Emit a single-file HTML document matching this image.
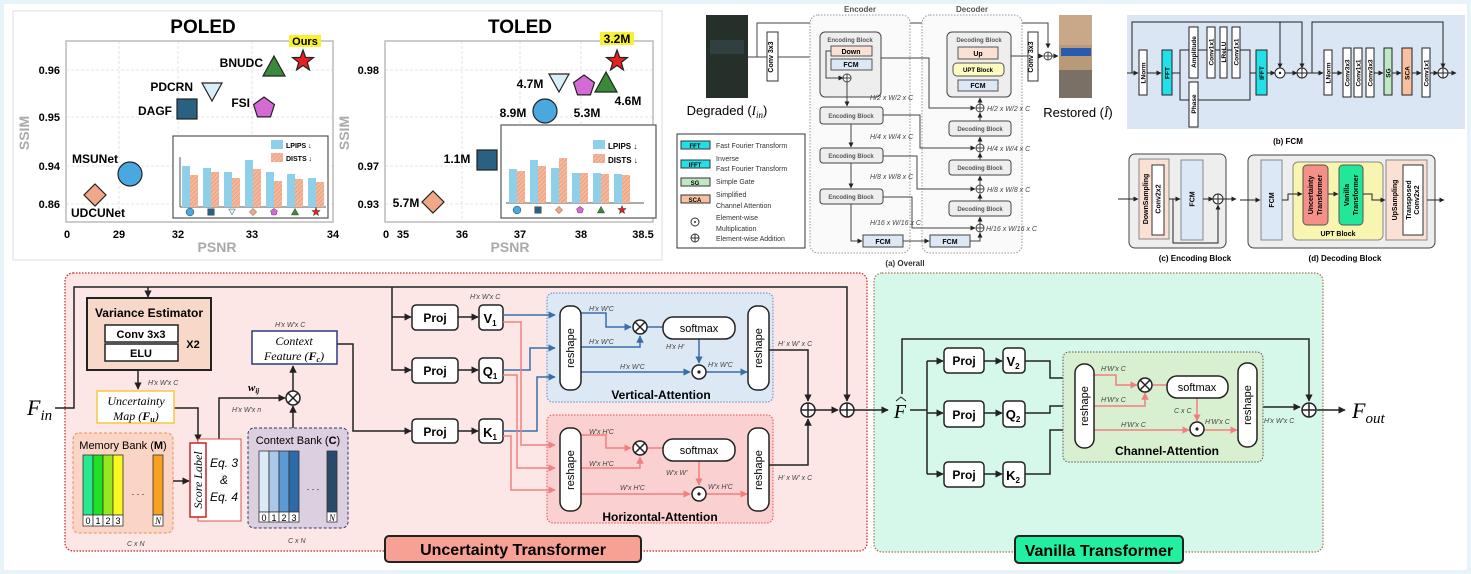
<!DOCTYPE html>
<html><head><meta charset="utf-8"><style>
html,body{margin:0;padding:0;background:#e6f3f9;}
svg{display:block;}
text{font-family:"Liberation Sans",sans-serif;}
.b{font-weight:bold;}
.m{font-family:"Liberation Serif",serif;font-style:italic;}
.s{font-size:7px;font-style:italic;fill:#444;}
</style></head><body>
<svg width="1471" height="574" viewBox="0 0 1471 574" xmlns="http://www.w3.org/2000/svg">
<defs>
<marker id="ak" viewBox="0 0 10 10" refX="9" refY="5" markerWidth="5" markerHeight="5" orient="auto"><path d="M0,0L10,5L0,10z" fill="#222"/></marker>
<marker id="ab" viewBox="0 0 10 10" refX="9" refY="5" markerWidth="5" markerHeight="5" orient="auto"><path d="M0,0L10,5L0,10z" fill="#3a6ea8"/></marker>
<marker id="ar" viewBox="0 0 10 10" refX="9" refY="5" markerWidth="5" markerHeight="5" orient="auto"><path d="M0,0L10,5L0,10z" fill="#f08080"/></marker>
<pattern id="hat" width="3" height="3" patternUnits="userSpaceOnUse" patternTransform="rotate(45)"><rect width="3" height="3" fill="#f4b89c"/><line x1="0" y1="0" x2="0" y2="3" stroke="#e88a64" stroke-width="1"/></pattern>
<polygon id="star" points="0,-11 2.65,-3.64 10.46,-3.4 4.28,1.39 6.47,8.9 0,4.5 -6.47,8.9 -4.28,1.39 -10.46,-3.4 -2.65,-3.64" fill="#e82020" stroke="#222" stroke-width="1.2"/>
<polygon id="pent" points="0,-11 10.46,-3.4 6.47,8.9 -6.47,8.9 -10.46,-3.4" fill="#d46ad4" stroke="#222" stroke-width="1.2"/>
<polygon id="tri" points="0,-11 11,9 -11,9" fill="#3a8a3a" stroke="#222" stroke-width="1.2"/>
<polygon id="dtri" points="-10,-9 10,-9 0,9" fill="#d8eef8" stroke="#222" stroke-width="1.2"/>
<polygon id="dia" points="0,-11 11,0 0,11 -11,0" fill="#f0a888" stroke="#222" stroke-width="1.2"/>
<rect id="sq" x="-10" y="-10" width="20" height="20" fill="#2a6080" stroke="#222" stroke-width="1.2"/>
<circle id="circ" r="12" fill="#4aa8e0" stroke="#222" stroke-width="1.2"/>
</defs>
<rect x="4" y="4" width="1463" height="566" fill="#fff"/>

<!-- ============ PLOTS PANEL ============ -->
<rect x="13" y="11" width="649" height="249" fill="#fff" stroke="#ddd"/>
<text x="203" y="33" font-size="19" class="b" text-anchor="middle">POLED</text>
<g stroke="#ddd" stroke-dasharray="3,2" stroke-width="0.8">
<line x1="119" y1="41" x2="119" y2="222"/><line x1="178" y1="41" x2="178" y2="222"/><line x1="252" y1="41" x2="252" y2="222"/>
<line x1="66" y1="70" x2="333" y2="70"/><line x1="66" y1="117" x2="333" y2="117"/><line x1="66" y1="166" x2="333" y2="166"/><line x1="66" y1="204" x2="333" y2="204"/>
</g>
<rect x="66" y="41" width="267" height="181" fill="none" stroke="#bbb" stroke-width="1.5"/>
<g font-size="11" class="b" text-anchor="end"><text x="60" y="74">0.96</text><text x="60" y="121">0.95</text><text x="60" y="170">0.94</text><text x="60" y="208">0.86</text></g>
<g font-size="11" class="b" text-anchor="middle"><text x="67" y="238">0</text><text x="119" y="238">29</text><text x="178" y="238">32</text><text x="252" y="238">33</text><text x="333" y="238">34</text></g>
<text x="217" y="252" font-size="14" class="b" fill="#aaa" text-anchor="middle">PSNR</text>
<text x="29" y="133" font-size="14" class="b" fill="#aaa" text-anchor="middle" transform="rotate(-90 29 133)">SSIM</text>
<use href="#star" x="303" y="61"/><rect x="289" y="35" width="32" height="12" fill="#f8f030"/><text x="305" y="45" font-size="11" class="b" text-anchor="middle">Ours</text>
<use href="#tri" x="274" y="67"/><text x="263" y="67" font-size="12" class="b" text-anchor="end">BNUDC</text>
<use href="#dtri" x="212" y="92"/><text x="193" y="91" font-size="12" class="b" text-anchor="end">PDCRN</text>
<use href="#sq" x="187" y="109"/><text x="172" y="115" font-size="12" class="b" text-anchor="end">DAGF</text>
<use href="#pent" x="264" y="108"/><text x="250" y="107" font-size="12" class="b" text-anchor="end">FSI</text>
<use href="#circ" x="130" y="174"/><text x="72" y="163" font-size="12" class="b">MSUNet</text>
<use href="#dia" x="95" y="195"/><text x="71" y="217" font-size="12" class="b">UDCUNet</text>
<rect x="173" y="136" width="155" height="82" fill="#fff" stroke="#555" stroke-width="1.2"/>
<line x1="180" y1="157" x2="180" y2="207" stroke="#555"/><line x1="180" y1="207" x2="326" y2="207" stroke="#555"/>
<g fill="#8ecfea"><rect x="182" y="166" width="8" height="41"/><rect x="203" y="168" width="8" height="39"/><rect x="224" y="172" width="8" height="35"/><rect x="245" y="160" width="8" height="47"/><rect x="266" y="172" width="8" height="35"/><rect x="287" y="174" width="8" height="33"/><rect x="308" y="178" width="8" height="29"/></g>
<g fill="url(#hat)"><rect x="190" y="175" width="8" height="32"/><rect x="211" y="172" width="8" height="35"/><rect x="232" y="178" width="8" height="29"/><rect x="253" y="169" width="8" height="38"/><rect x="274" y="181" width="8" height="26"/><rect x="295" y="179" width="8" height="28"/><rect x="316" y="182" width="8" height="25"/></g>
<rect x="271" y="140" width="12" height="9" fill="#8ecfea"/><text x="286" y="148" font-size="7" class="b">LPIPS ↓</text>
<rect x="271" y="153" width="12" height="9" fill="url(#hat)"/><text x="286" y="161" font-size="7" class="b">DISTS ↓</text>
<g transform="translate(0,212)"><use href="#circ" transform="translate(190,0) scale(0.33)"/><use href="#sq" transform="translate(211,0) scale(0.33)"/><use href="#dtri" transform="translate(232,0) scale(0.33)"/><use href="#dia" transform="translate(253,0) scale(0.33)"/><use href="#pent" transform="translate(274,0) scale(0.33)"/><use href="#tri" transform="translate(295,0) scale(0.33)"/><use href="#star" transform="translate(316,0) scale(0.4)"/></g>

<text x="520" y="33" font-size="19" class="b" text-anchor="middle">TOLED</text>
<g stroke="#ddd" stroke-dasharray="3,2" stroke-width="0.8">
<line x1="462" y1="41" x2="462" y2="222"/><line x1="520" y1="41" x2="520" y2="222"/><line x1="581" y1="41" x2="581" y2="222"/>
<line x1="385" y1="70" x2="653" y2="70"/><line x1="385" y1="117" x2="653" y2="117"/><line x1="385" y1="166" x2="653" y2="166"/><line x1="385" y1="204" x2="653" y2="204"/>
</g>
<rect x="385" y="41" width="268" height="181" fill="none" stroke="#bbb" stroke-width="1.5"/>
<g font-size="11" class="b" text-anchor="end"><text x="379" y="74">0.98</text><text x="379" y="170">0.97</text><text x="379" y="208">0.93</text></g>
<g font-size="11" class="b" text-anchor="middle"><text x="386" y="238">0</text><text x="403" y="238">35</text><text x="462" y="238">36</text><text x="520" y="238">37</text><text x="581" y="238">38</text><text x="643" y="238">38.5</text></g>
<text x="510" y="252" font-size="14" class="b" fill="#aaa" text-anchor="middle">PSNR</text>
<text x="349" y="133" font-size="14" class="b" fill="#aaa" text-anchor="middle" transform="rotate(-90 349 133)">SSIM</text>
<use href="#star" x="617" y="61"/><rect x="600" y="32" width="34" height="13" fill="#f8f030"/><text x="617" y="43" font-size="12" class="b" text-anchor="middle">3.2M</text>
<use href="#tri" x="606" y="83"/><text x="628" y="105" font-size="12" class="b" text-anchor="middle">4.6M</text>
<use href="#pent" x="584" y="86"/><text x="587" y="117" font-size="12" class="b" text-anchor="middle">5.3M</text>
<use href="#dtri" x="559" y="83"/><text x="530" y="88" font-size="12" class="b" text-anchor="middle">4.7M</text>
<use href="#circ" x="545" y="111"/><text x="513" y="117" font-size="12" class="b" text-anchor="middle">8.9M</text>
<use href="#sq" x="487" y="160"/><text x="457" y="163" font-size="12" class="b" text-anchor="middle">1.1M</text>
<use href="#dia" x="433" y="202"/><text x="406" y="207" font-size="12" class="b" text-anchor="middle">5.7M</text>
<rect x="501" y="125" width="155" height="93" fill="#fff" stroke="#555" stroke-width="1.2"/>
<line x1="506" y1="203" x2="644" y2="203" stroke="#555"/>
<g fill="#8ecfea"><rect x="509" y="169" width="8" height="34"/><rect x="530" y="160" width="8" height="43"/><rect x="551" y="168" width="8" height="35"/><rect x="572" y="173" width="8" height="30"/><rect x="593" y="173" width="8" height="30"/><rect x="614" y="174" width="8" height="29"/></g>
<g fill="url(#hat)"><rect x="517" y="171" width="8" height="32"/><rect x="538" y="166" width="8" height="37"/><rect x="559" y="158" width="8" height="45"/><rect x="580" y="173" width="8" height="30"/><rect x="601" y="174" width="8" height="29"/><rect x="622" y="175" width="8" height="28"/></g>
<rect x="593" y="140" width="12" height="9" fill="#8ecfea"/><text x="608" y="149" font-size="8" class="b">LPIPS ↓</text>
<rect x="593" y="154" width="12" height="9" fill="url(#hat)"/><text x="608" y="163" font-size="8" class="b">DISTS ↓</text>
<g transform="translate(0,210)"><use href="#circ" transform="translate(517,0) scale(0.33)"/><use href="#sq" transform="translate(538,0) scale(0.33)"/><use href="#dia" transform="translate(559,0) scale(0.33)"/><use href="#pent" transform="translate(580,0) scale(0.33)"/><use href="#tri" transform="translate(601,0) scale(0.33)"/><use href="#star" transform="translate(622,0) scale(0.4)"/></g>

<!-- ============ (a) OVERALL ============ -->
<rect x="706" y="15" width="42" height="83" fill="#26302a"/>
<rect x="710" y="40" width="34" height="14" fill="#34474a" opacity="0.7"/>
<text x="727" y="115" font-size="13" text-anchor="middle">Degraded (<tspan class="m">I<tspan font-size="9" dy="3">in</tspan></tspan><tspan dy="-3">)</tspan></text>
<rect x="767" y="32" width="11" height="49" fill="#fff" stroke="#333"/>
<text x="773" y="57" font-size="7" class="b" text-anchor="middle" transform="rotate(-90 773 57)">Conv 3x3</text>
<g fill="none" stroke="#444" stroke-width="1">
<polyline points="748,57 767,57"/><polyline points="778,57 819,57" marker-end="url(#ak)"/>
<polyline points="757,57 757,23 1048,23 1048,48" marker-end="url(#ak)"/>
</g>
<rect x="810" y="15" width="100" height="238" rx="8" fill="#fafafa" stroke="#999" stroke-dasharray="1.5,1.5"/>
<rect x="922" y="15" width="100" height="238" rx="8" fill="#fafafa" stroke="#999" stroke-dasharray="1.5,1.5"/>
<text x="860" y="12" font-size="8" class="b" fill="#555" text-anchor="middle">Encoder</text>
<text x="972" y="12" font-size="8" class="b" fill="#555" text-anchor="middle">Decoder</text>
<rect x="820" y="32" width="61" height="65" rx="5" fill="#eee" stroke="#444"/>
<text x="850" y="42" font-size="6" class="b" fill="#555" text-anchor="middle">Encoding Block</text>
<rect x="831" y="46" width="41" height="10" fill="#fbe0d4" stroke="#555"/><text x="851" y="54" font-size="7" class="b" text-anchor="middle">Down</text>
<rect x="831" y="59" width="41" height="11" fill="#dce8f5" stroke="#555"/><text x="851" y="67" font-size="7" class="b" text-anchor="middle">FCM</text>
<circle cx="847" cy="78" r="4" fill="#fff" stroke="#444"/><path d="M843,78h8M847,74v8" stroke="#444"/>
<polyline points="831,51 826,51 826,78 843,78" fill="none" stroke="#444" marker-end="url(#ak)"/>
<g fill="#eee" stroke="#444"><rect x="820" y="107" width="63" height="17" rx="3"/><rect x="820" y="148" width="63" height="15" rx="3"/><rect x="820" y="189" width="63" height="15" rx="3"/>
<rect x="949" y="121" width="62" height="15" rx="3"/><rect x="949" y="160" width="62" height="15" rx="3"/><rect x="949" y="201" width="62" height="15" rx="3"/></g>
<g font-size="6" class="b" fill="#555" text-anchor="middle"><text x="851" y="118">Encoding Block</text><text x="851" y="158">Encoding Block</text><text x="851" y="199">Encoding Block</text>
<text x="980" y="131">Decoding Block</text><text x="980" y="170">Decoding Block</text><text x="980" y="211">Decoding Block</text></g>
<rect x="947" y="32" width="64" height="65" rx="5" fill="#eee" stroke="#444"/>
<text x="979" y="42" font-size="6" class="b" fill="#555" text-anchor="middle">Decoding Block</text>
<rect x="958" y="47" width="40" height="12" fill="#fbe0d4" stroke="#555"/><text x="978" y="56" font-size="7" class="b" text-anchor="middle">Up</text>
<rect x="953" y="63" width="51" height="13" rx="4" fill="#fdfbc0" stroke="#555"/><text x="978" y="72" font-size="6" class="b" text-anchor="middle">UPT Block</text>
<rect x="958" y="80" width="40" height="11" fill="#dce8f5" stroke="#555"/><text x="978" y="88" font-size="7" class="b" text-anchor="middle">FCM</text>
<rect x="863" y="235" width="40" height="12" fill="#dce8f5" stroke="#444"/><text x="883" y="244" font-size="7" class="b" text-anchor="middle">FCM</text>
<rect x="930" y="235" width="40" height="12" fill="#dce8f5" stroke="#444"/><text x="950" y="244" font-size="7" class="b" text-anchor="middle">FCM</text>
<g fill="#fff" stroke="#444"><circle cx="980" cy="108" r="4"/><circle cx="980" cy="148" r="4"/><circle cx="980" cy="189" r="4"/><circle cx="980" cy="228" r="4"/></g>
<g stroke="#444"><path d="M976,108h8M980,104v8M976,148h8M980,144v8M976,189h8M980,185v8M976,228h8M980,224v8"/></g>
<g fill="none" stroke="#444" marker-end="url(#ak)">
<polyline points="847,82 847,106"/><polyline points="851,124 851,147"/><polyline points="851,163 851,188"/><polyline points="851,204 851,241 862,241"/>
<polyline points="903,241 929,241"/><polyline points="970,241 980,241 980,233"/>
<polyline points="980,224 980,217"/><polyline points="980,201 980,194"/><polyline points="980,185 980,176"/><polyline points="980,160 980,153"/><polyline points="980,144 980,137"/><polyline points="980,121 980,113"/><polyline points="980,104 980,98"/>
<polyline points="881,58 929,58 929,108 975,108"/><polyline points="883,115 920,115 920,148 975,148"/><polyline points="883,156 917,156 917,189 975,189"/><polyline points="883,197 912,197 912,228 975,228"/>
<polyline points="1038,56 1043,56"/><polyline points="1052,56 1058,56"/>
</g>
<line x1="1011" y1="56" x2="1028" y2="56" stroke="#444"/>
<g class="s" font-size="6.5"><text x="870" y="100">H/2 x W/2 x C</text><text x="870" y="139">H/4 x W/4 x C</text><text x="870" y="179">H/8 x W/8 x C</text><text x="870" y="225">H/16 x W/16 x C</text>
<text x="987" y="111">H/2 x W/2 x C</text><text x="987" y="151">H/4 x W/4 x C</text><text x="987" y="192">H/8 x W/8 x C</text><text x="986" y="231">H/16 x W/16 x C</text></g>
<rect x="1028" y="32" width="10" height="49" fill="#fff" stroke="#333"/>
<text x="1033" y="57" font-size="7" class="b" text-anchor="middle" transform="rotate(-90 1033 57)">Conv 3x3</text>
<circle cx="1048" cy="56" r="4" fill="#fff" stroke="#444"/><path d="M1044,56h8M1048,52v8" stroke="#444"/>
<rect x="1059" y="15" width="33" height="83" fill="#b89a78"/><rect x="1059" y="15" width="33" height="30" fill="#c8a888"/><rect x="1061" y="48" width="30" height="8" fill="#2a5ab0"/><rect x="1059" y="70" width="33" height="28" fill="#7a7066"/>
<text x="1078" y="117" font-size="13" text-anchor="middle">Restored (<tspan class="m">Î</tspan>)</text>
<text x="905" y="266" font-size="8" class="b" fill="#333" text-anchor="middle">(a) Overall</text>
<rect x="677" y="134" width="128" height="114" fill="#fff" stroke="#333"/>
<g stroke="#333"><rect x="681" y="141" width="29" height="8" fill="#22e0e8"/><rect x="681" y="160" width="29" height="8" fill="#22e0e8"/><rect x="681" y="178" width="29" height="8" fill="#bfe8c4"/><rect x="681" y="195" width="29" height="8" fill="#f8c0a0"/></g>
<g font-size="6" class="b" text-anchor="middle"><text x="695" y="148">FFT</text><text x="695" y="167">IFFT</text><text x="695" y="185">SG</text><text x="695" y="202">SCA</text></g>
<g font-size="7" fill="#333"><text x="716" y="148">Fast Fourier Transform</text><text x="716" y="161">Inverse</text><text x="716" y="171">Fast Fourier Transform</text><text x="716" y="184">Simple Gate</text><text x="716" y="197">Simplified</text><text x="716" y="208">Channel Attention</text><text x="716" y="220">Element-wise</text><text x="716" y="231">Multiplication</text><text x="716" y="241">Element-wise Addition</text></g>
<circle cx="695" cy="222" r="4" fill="#fff" stroke="#333"/><circle cx="695" cy="222" r="1" fill="#333"/>
<circle cx="695" cy="238" r="4" fill="#fff" stroke="#333"/><path d="M691,238h8M695,234v8" stroke="#333"/>

<!-- ============ (b) FCM ============ -->
<rect x="1127" y="15" width="338" height="114" fill="#dae6f3"/>
<g fill="none" stroke="#222" stroke-width="1">
<polyline points="1127,73 1138,73" marker-end="url(#ak)"/>
<polyline points="1132,73 1132,22 1302,22 1302,68" marker-end="url(#ak)"/>
<polyline points="1280,22 1280,68" marker-end="url(#ak)"/>
<polyline points="1147,73 1161,73" marker-end="url(#ak)"/>
<polyline points="1172,73 1180,73 1180,50 1189,50"/><polyline points="1180,73 1180,100 1189,100"/>
<polyline points="1198,50 1207,50"/><polyline points="1215,50 1220,50"/><polyline points="1227,50 1232,50"/>
<polyline points="1240,50 1250,50 1250,73 1256,73"/><polyline points="1198,100 1250,100 1250,73"/>
<polyline points="1267,73 1275,73" marker-end="url(#ak)"/><polyline points="1285,73 1297,73" marker-end="url(#ak)"/>
<polyline points="1307,73 1323,73" marker-end="url(#ak)"/>
<polyline points="1312,73 1312,22 1443,22 1443,68" marker-end="url(#ak)"/>
<polyline points="1332,73 1342,73" marker-end="url(#ak)"/><polyline points="1374,73 1383,73" marker-end="url(#ak)"/><polyline points="1392,73 1401,73" marker-end="url(#ak)"/><polyline points="1412,73 1421,73" marker-end="url(#ak)"/><polyline points="1430,73 1438,73" marker-end="url(#ak)"/><polyline points="1448,73 1456,73" marker-end="url(#ak)"/>
</g>
<g stroke="#222" fill="#fff">
<rect x="1139" y="50" width="8" height="45"/><rect x="1162" y="50" width="10" height="45" fill="#22e0e8"/>
<rect x="1189" y="27" width="9" height="51"/><rect x="1189" y="82" width="9" height="45"/>
<rect x="1207" y="27" width="8" height="51"/><rect x="1220" y="27" width="7" height="51"/><rect x="1232" y="27" width="8" height="51"/>
<rect x="1256" y="50" width="11" height="45" fill="#22e0e8"/>
<rect x="1324" y="50" width="8" height="45"/><rect x="1343" y="48" width="8" height="49"/><rect x="1354" y="48" width="8" height="49"/><rect x="1366" y="48" width="8" height="49"/>
<rect x="1384" y="48" width="8" height="47" fill="#bfe8c4"/><rect x="1402" y="48" width="10" height="47" fill="#f8c0a0"/><rect x="1422" y="48" width="8" height="49"/>
</g>
<g font-size="6.5" class="b" text-anchor="middle">
<text transform="translate(1145.5,73) rotate(-90)">LNorm</text><text transform="translate(1169.5,73) rotate(-90)">FFT</text>
<text transform="translate(1196,52) rotate(-90)">Amplitude</text><text transform="translate(1196,104) rotate(-90)">Phase</text>
<text transform="translate(1213.5,52) rotate(-90)">Conv1x1</text><text transform="translate(1226,52) rotate(-90)">LReLU</text><text transform="translate(1238.5,52) rotate(-90)">Conv1x1</text>
<text transform="translate(1264,73) rotate(-90)">IFFT</text><text transform="translate(1330.5,73) rotate(-90)">LNorm</text>
<text transform="translate(1349.5,73) rotate(-90)">Conv3x3</text><text transform="translate(1360.5,73) rotate(-90)">Conv1x1</text><text transform="translate(1372.5,73) rotate(-90)">Conv3x3</text>
<text transform="translate(1390.5,73) rotate(-90)">SG</text><text transform="translate(1409.5,73) rotate(-90)">SCA</text><text transform="translate(1428.5,73) rotate(-90)">Conv1x1</text>
</g>
<circle cx="1280" cy="73" r="5" fill="#fff" stroke="#222"/><circle cx="1280" cy="73" r="1.2" fill="#222"/>
<circle cx="1302" cy="73" r="5" fill="#fff" stroke="#222"/><path d="M1297,73h10M1302,68v10" stroke="#222"/>
<circle cx="1443" cy="73" r="5" fill="#fff" stroke="#222"/><path d="M1438,73h10M1443,68v10" stroke="#222"/>
<text x="1288" y="144" font-size="8" class="b" text-anchor="middle">(b) FCM</text>

<rect x="1129" y="154" width="97" height="94" rx="6" fill="#eee" stroke="#444"/>
<rect x="1139" y="159" width="30" height="80" fill="#fbe0d4" stroke="#888"/>
<rect x="1152" y="165" width="12" height="70" fill="#fff" stroke="#333"/>
<rect x="1181" y="160" width="22" height="80" fill="#dce8f5" stroke="#888"/>
<g font-size="7" class="b" text-anchor="middle"><text transform="translate(1148,199) rotate(-90)">DownSampling</text><text transform="translate(1160.5,199) rotate(-90)">Conv2x2</text><text transform="translate(1194.5,199) rotate(-90)">FCM</text></g>
<g fill="none" stroke="#222" marker-end="url(#ak)"><polyline points="1118,199 1138,199"/><polyline points="1169,199 1180,199"/><polyline points="1173,199 1173,243 1218,243 1218,205"/><polyline points="1203,199 1213,199"/><polyline points="1223,199 1236,199"/></g>
<circle cx="1218" cy="199" r="5" fill="#fff" stroke="#222"/><path d="M1213,199h10M1218,194v10" stroke="#222"/>
<text x="1195" y="261" font-size="8" class="b" text-anchor="middle">(c) Encoding Block</text>
<rect x="1248" y="155" width="187" height="93" rx="6" fill="#eee" stroke="#444"/>
<rect x="1261" y="160" width="21" height="80" fill="#dce8f5" stroke="#888"/>
<rect x="1293" y="162" width="90" height="78" rx="5" fill="#f8f5b0" stroke="#888"/>
<rect x="1303" y="165" width="25" height="60" rx="4" fill="#f49088" stroke="#555"/>
<rect x="1339" y="165" width="24" height="60" rx="4" fill="#20e898" stroke="#555"/>
<rect x="1386" y="160" width="41" height="80" fill="#fbe0d4" stroke="#888"/>
<rect x="1403" y="165" width="20" height="70" fill="#fff" stroke="#333"/>
<g font-size="7" class="b" text-anchor="middle"><text transform="translate(1274,200) rotate(-90)">FCM</text>
<text transform="translate(1313,195) rotate(-90)">Uncertainty</text><text transform="translate(1322,195) rotate(-90)">Transformer</text>
<text transform="translate(1349,195) rotate(-90)">Vanilla</text><text transform="translate(1358,195) rotate(-90)">Transformer</text>
<text transform="translate(1397,200) rotate(-90)">UpSampling</text><text transform="translate(1411,200) rotate(-90)">Transposed</text><text transform="translate(1419,200) rotate(-90)">Conv2x2</text>
<text x="1338" y="236">UPT Block</text></g>
<g fill="none" stroke="#222" marker-end="url(#ak)"><polyline points="1240,200 1260,200"/><polyline points="1282,200 1288,200 1288,194 1302,194"/><polyline points="1328,194 1338,194"/><polyline points="1363,194 1372,194 1372,200 1385,200"/><polyline points="1427,200 1444,200"/></g>
<text x="1345" y="261" font-size="8" class="b" text-anchor="middle">(d) Decoding Block</text>

<!-- ============ UNCERTAINTY TRANSFORMER ============ -->
<rect x="65" y="273" width="802" height="278" rx="8" fill="#fde6e6" stroke="#d02020" stroke-dasharray="1.5,1.5" stroke-width="1.2"/>
<rect x="874" y="273" width="449" height="279" rx="8" fill="#d6f8ea" stroke="#b07050" stroke-dasharray="1.5,1.5" stroke-width="1.2"/>
<text x="27" y="415" font-size="22" class="m">F<tspan font-size="15" dy="5">in</tspan></text>
<g fill="none" stroke="#222" stroke-width="1.5">
<polyline points="55,408 74,408 74,287 847,287 847,401" marker-end="url(#ak)"/>
<polyline points="148,287 148,297" marker-end="url(#ak)"/>
<polyline points="138,370 138,389" marker-end="url(#ak)"/>
<polyline points="174,408 198,408 198,441" marker-end="url(#ak)"/>
<polyline points="173,481 189,481" marker-end="url(#ak)"/>
<polyline points="219,439 219,398 285,398" marker-end="url(#ak)"/>
<polyline points="293,428 293,406" marker-end="url(#ak)"/>
<polyline points="293,391 293,366" marker-end="url(#ak)"/>
<polyline points="337,344 353,344 353,431 411,431" marker-end="url(#ak)"/>
<polyline points="392,287 392,370 411,370" marker-end="url(#ak)"/>
<polyline points="392,317 411,317" marker-end="url(#ak)"/>
<polyline points="458,317 478,317" marker-end="url(#ak)"/><polyline points="458,370 478,370" marker-end="url(#ak)"/><polyline points="458,431 478,431" marker-end="url(#ak)"/>
</g>
<rect x="87" y="298" width="124" height="72" fill="#f8d8c8" stroke="#222" stroke-width="2"/>
<text x="149" y="317" font-size="12" class="b" text-anchor="middle">Variance Estimator</text>
<rect x="105" y="325" width="73" height="17" fill="#fff" stroke="#222" stroke-width="1.5"/><text x="141" y="338" font-size="11" class="b" text-anchor="middle">Conv 3x3</text>
<rect x="105" y="344" width="73" height="17" fill="#fff" stroke="#222" stroke-width="1.5"/><text x="141" y="357" font-size="11" class="b" text-anchor="middle">ELU</text>
<text x="193" y="348" font-size="11" class="b" text-anchor="middle">X2</text>
<text x="148" y="385" class="s">H'x W'x C</text>
<rect x="97" y="391" width="77" height="32" fill="#fff" stroke="#f5c842" stroke-width="1.5"/>
<text x="136" y="405" font-size="12" class="m" text-anchor="middle">Uncertainty</text>
<text x="136" y="420" font-size="12" class="m" text-anchor="middle">Map (<tspan class="b">F<tspan font-size="8" dy="2">u</tspan></tspan><tspan dy="-2">)</tspan></text>
<rect x="73" y="433" width="100" height="100" rx="6" fill="#fad4c4" stroke="#e8905a" stroke-dasharray="3,2"/>
<text x="123" y="449" font-size="11" text-anchor="middle">Memory Bank (<tspan class="b">M</tspan>)</text>
<g stroke="#333" stroke-width="0.8"><rect x="83" y="455" width="10" height="60" fill="#2ae890"/><rect x="93" y="455" width="10" height="60" fill="#22e022"/><rect x="103" y="455" width="10" height="60" fill="#96e81e"/><rect x="113" y="455" width="10" height="60" fill="#f8f820"/><rect x="153" y="455" width="10" height="60" fill="#f8a020"/>
<rect x="83" y="515" width="10" height="11" fill="#fff"/><rect x="93" y="515" width="10" height="11" fill="#fff"/><rect x="103" y="515" width="10" height="11" fill="#fff"/><rect x="113" y="515" width="10" height="11" fill="#fff"/><rect x="153" y="515" width="10" height="11" fill="#fff"/></g>
<g font-size="9" text-anchor="middle"><text x="88" y="524">0</text><text x="98" y="524">1</text><text x="108" y="524">2</text><text x="118" y="524">3</text><text x="158" y="524" class="m">N</text></g>
<text x="138" y="495" font-size="9" text-anchor="middle">. . .</text>
<text x="127" y="546" class="s">C x N</text>
<rect x="198" y="439" width="43" height="82" fill="#fff" stroke="#e05050"/>
<rect x="190" y="443" width="16" height="74" fill="#fff" stroke="#d02020" stroke-width="1.5"/>
<text transform="translate(202,480) rotate(-90)" font-size="12" class="m" text-anchor="middle">Score Label</text>
<g font-size="12" class="m" text-anchor="middle"><text x="224" y="467">Eq. 3</text><text x="224" y="484">&amp;</text><text x="224" y="501">Eq. 4</text></g>
<text x="248" y="391" font-size="11" class="m b">w<tspan font-size="7" dy="2">ij</tspan></text>
<text x="232" y="412" class="s">H'x W'x n</text>
<circle cx="293" cy="398" r="7" fill="#fff" stroke="#222" stroke-width="1.5"/><path d="M288,393l10,10M298,393l-10,10" stroke="#222" stroke-width="1.5"/>
<rect x="248" y="428" width="100" height="100" rx="6" fill="#dccfe0" stroke="#2a3a70" stroke-dasharray="3,2"/>
<text x="298" y="444" font-size="11" text-anchor="middle">Context Bank (<tspan class="b">C</tspan>)</text>
<g stroke="#333" stroke-width="0.8"><rect x="259" y="451" width="10" height="61" fill="#dce9f6"/><rect x="269" y="451" width="10" height="61" fill="#aac8e8"/><rect x="279" y="451" width="10" height="61" fill="#5b9bd5"/><rect x="289" y="451" width="10" height="61" fill="#2e6aa8"/><rect x="327" y="451" width="10" height="61" fill="#2a4a6a"/>
<rect x="259" y="512" width="10" height="10" fill="#fff"/><rect x="269" y="512" width="10" height="10" fill="#fff"/><rect x="279" y="512" width="10" height="10" fill="#fff"/><rect x="289" y="512" width="10" height="10" fill="#fff"/><rect x="327" y="512" width="10" height="10" fill="#fff"/></g>
<g font-size="9" text-anchor="middle"><text x="264" y="521">0</text><text x="274" y="521">1</text><text x="284" y="521">2</text><text x="294" y="521">3</text><text x="332" y="521" class="m">N</text></g>
<text x="313" y="490" font-size="9" text-anchor="middle">. . .</text>
<text x="288" y="543" class="s">C x N</text>
<text x="275" y="327" class="s">H'x W'x C</text>
<rect x="252" y="331" width="85" height="33" fill="#fff" stroke="#2a3a80" stroke-width="1.5"/>
<text x="294" y="345" font-size="12" class="m" text-anchor="middle">Context</text>
<text x="294" y="360" font-size="12" class="m" text-anchor="middle">Feature (<tspan class="b">F<tspan font-size="8" dy="2">c</tspan></tspan><tspan dy="-2">)</tspan></text>
<g fill="#fff" stroke="#222" stroke-width="1.5"><rect x="412" y="305" width="46" height="25" rx="4"/><rect x="412" y="358" width="46" height="25" rx="4"/><rect x="412" y="419" width="46" height="24" rx="4"/>
<rect x="479" y="305" width="24" height="25" rx="4"/><rect x="479" y="358" width="24" height="25" rx="4"/><rect x="479" y="419" width="24" height="24" rx="4"/></g>
<g font-size="12" class="b" text-anchor="middle"><text x="435" y="322">Proj</text><text x="435" y="375">Proj</text><text x="435" y="436">Proj</text></g>
<g font-size="13" class="b" text-anchor="middle"><text x="490" y="323" font-family="Liberation Serif">V<tspan font-size="8" dy="3">1</tspan></text><text x="490" y="376" font-family="Liberation Serif">Q<tspan font-size="8" dy="3">1</tspan></text><text x="490" y="437" font-family="Liberation Serif">K<tspan font-size="8" dy="3">1</tspan></text></g>
<text x="470" y="299" class="s">H'x W'x C</text>
<rect x="547" y="293" width="226" height="109" rx="6" fill="#dde8f5" stroke="#5a8ac8" stroke-dasharray="1.5,1.5"/>
<rect x="547" y="415" width="226" height="108" rx="6" fill="#fbd0d0" stroke="#e05050" stroke-dasharray="1.5,1.5"/>
<g fill="none" stroke="#3a6ea8" stroke-width="1.5">
<polyline points="503,315 555,315" marker-end="url(#ab)"/>
<polyline points="503,370 530,370 530,348 555,348" marker-end="url(#ab)"/>
<polyline points="503,431 537,431 537,377 555,377" marker-end="url(#ab)"/>
<polyline points="581,313 606,313 606,327 631,327" marker-end="url(#ab)"/>
<polyline points="581,347 640,347 640,336" marker-end="url(#ab)"/>
<polyline points="581,372 690,372" marker-end="url(#ab)"/>
<polyline points="647,327 663,327"/>
<polyline points="699,339 699,363" marker-end="url(#ab)"/>
<polyline points="706,372 747,372" marker-end="url(#ab)"/>
</g>
<g fill="none" stroke="#f08080" stroke-width="1.5">
<polyline points="503,322 521,322 521,445 555,445" marker-end="url(#ar)"/>
<polyline points="503,375 517,375 517,468 555,468" marker-end="url(#ar)"/>
<polyline points="503,436 511,436 511,490 555,490" marker-end="url(#ar)"/>
<polyline points="581,435 606,435 606,448 631,448" marker-end="url(#ar)"/>
<polyline points="581,468 640,468 640,457" marker-end="url(#ar)"/>
<polyline points="581,494 690,494" marker-end="url(#ar)"/>
<polyline points="647,448 663,448"/>
<polyline points="699,461 699,485" marker-end="url(#ar)"/>
<polyline points="706,494 747,494" marker-end="url(#ar)"/>
</g>
<g fill="#fff" stroke="#222" stroke-width="1.5"><rect x="560" y="306" width="21" height="84" rx="9"/><rect x="748" y="306" width="21" height="84" rx="9"/><rect x="560" y="428" width="21" height="83" rx="9"/><rect x="748" y="428" width="21" height="83" rx="9"/>
<rect x="663" y="317" width="72" height="22" rx="10"/><rect x="663" y="439" width="72" height="22" rx="10"/></g>
<g font-size="11" text-anchor="middle"><text transform="translate(574,348) rotate(-90)">reshape</text><text transform="translate(762,348) rotate(-90)">reshape</text><text transform="translate(574,470) rotate(-90)">reshape</text><text transform="translate(762,470) rotate(-90)">reshape</text>
<text x="699" y="332">softmax</text><text x="699" y="454">softmax</text></g>
<g fill="#fff" stroke="#222" stroke-width="1.5"><circle cx="640" cy="327" r="7"/><circle cx="640" cy="448" r="7"/><circle cx="699" cy="372" r="7"/><circle cx="699" cy="494" r="7"/></g>
<path d="M635,322l10,10M645,322l-10,10M635,443l10,10M645,443l-10,10" stroke="#222" stroke-width="1.5"/>
<circle cx="699" cy="372" r="1.6" fill="#222"/><circle cx="699" cy="494" r="1.6" fill="#222"/>
<g class="s"><text x="589" y="311">H'x W'C</text><text x="589" y="344">H'x W'C</text><text x="620" y="369">H'x W'C</text><text x="666" y="349">H'x H'</text><text x="708" y="367">H'x W'C</text>
<text x="589" y="434">W'x H'C</text><text x="589" y="466">W'x H'C</text><text x="620" y="490">W'x H'C</text><text x="666" y="475">W'x W'</text><text x="708" y="489">W'x H'C</text>
<text x="778" y="346">H' x W' x C</text><text x="778" y="480">H' x W' x C</text></g>
<text x="661" y="399" font-size="12" class="b" text-anchor="middle">Vertical-Attention</text>
<text x="660" y="521" font-size="12" class="b" text-anchor="middle">Horizontal-Attention</text>
<g fill="none" stroke="#222" stroke-width="1.5">
<polyline points="769,350 808,350 808,401" marker-end="url(#ak)"/>
<polyline points="769,465 808,465 808,419" marker-end="url(#ak)"/>
<polyline points="815,410 838,410" marker-end="url(#ak)"/>
<polyline points="854,410 888,410" marker-end="url(#ak)"/>
</g>
<g fill="#fff" stroke="#222" stroke-width="1.5"><circle cx="808" cy="410" r="7"/><circle cx="847" cy="410" r="7"/></g>
<path d="M801,410h14M808,403v14M840,410h14M847,403v14" stroke="#222" stroke-width="1.5"/>
<rect x="385" y="536" width="256" height="26" rx="4" fill="#f7a194" stroke="#222" stroke-width="2"/>
<text x="513" y="555" font-size="16" class="b" text-anchor="middle">Uncertainty Transformer</text>

<!-- ============ VANILLA ============ -->
<text x="900" y="418" font-size="20" class="m" text-anchor="middle">F</text>
<path d="M896,401l5,-4l5,4" fill="none" stroke="#222"/>
<g fill="none" stroke="#222" stroke-width="1.5">
<polyline points="902,394 902,339 1309,339 1309,401" marker-end="url(#ak)"/>
<polyline points="910,410 927,410"/>
<polyline points="927,361 927,474"/>
<polyline points="927,361 943,361" marker-end="url(#ak)"/><polyline points="927,413 943,413" marker-end="url(#ak)"/><polyline points="927,474 943,474" marker-end="url(#ak)"/>
<polyline points="984,361 1002,361" marker-end="url(#ak)"/><polyline points="984,413 1002,413" marker-end="url(#ak)"/><polyline points="984,474 1002,474" marker-end="url(#ak)"/>
<polyline points="1025,361 1050,361 1050,378 1074,378" marker-end="url(#ak)"/>
<polyline points="1025,413 1050,413 1050,406 1074,406" marker-end="url(#ak)"/>
<polyline points="1025,474 1050,474 1050,430 1074,430" marker-end="url(#ak)"/>
<polyline points="1257,407 1300,407" marker-end="url(#ak)"/>
<polyline points="1317,410 1345,410" marker-end="url(#ak)"/>
</g>
<rect x="1063" y="352" width="200" height="110" rx="6" fill="#d8f0d0" stroke="#555" stroke-dasharray="1.5,1.5"/>
<g fill="none" stroke="#f08080" stroke-width="1.5">
<polyline points="1094,375 1116,375 1116,385 1137,385" marker-end="url(#ar)"/>
<polyline points="1094,406 1145,406 1145,393" marker-end="url(#ar)"/>
<polyline points="1094,430 1189,430" marker-end="url(#ar)"/>
<polyline points="1152,385 1167,385"/>
<polyline points="1197,398 1197,421" marker-end="url(#ar)"/>
<polyline points="1204,430 1237,430" marker-end="url(#ar)"/>
</g>
<g fill="#fff" stroke="#222" stroke-width="1.5"><rect x="944" y="348" width="40" height="25" rx="4"/><rect x="944" y="401" width="40" height="26" rx="4"/><rect x="944" y="462" width="40" height="25" rx="4"/>
<rect x="1003" y="348" width="22" height="25" rx="4"/><rect x="1003" y="401" width="22" height="26" rx="4"/><rect x="1003" y="462" width="22" height="25" rx="4"/>
<rect x="1075" y="364" width="19" height="84" rx="9"/><rect x="1238" y="363" width="19" height="84" rx="9"/><rect x="1167" y="376" width="61" height="22" rx="10"/>
<circle cx="1145" cy="385" r="7"/><circle cx="1197" cy="429" r="7"/><circle cx="1309" cy="410" r="7"/></g>
<path d="M1140,380l10,10M1150,380l-10,10M1302,410h14M1309,403v14" stroke="#222" stroke-width="1.5"/>
<circle cx="1197" cy="429" r="1.6" fill="#222"/>
<g font-size="12" class="b" text-anchor="middle"><text x="964" y="365">Proj</text><text x="964" y="419">Proj</text><text x="964" y="479">Proj</text></g>
<g font-size="13" class="b" text-anchor="middle"><text x="1013" y="366" font-family="Liberation Serif">V<tspan font-size="8" dy="3">2</tspan></text><text x="1013" y="419" font-family="Liberation Serif">Q<tspan font-size="8" dy="3">2</tspan></text><text x="1013" y="480" font-family="Liberation Serif">K<tspan font-size="8" dy="3">2</tspan></text></g>
<g font-size="11" text-anchor="middle"><text transform="translate(1088,406) rotate(-90)">reshape</text><text transform="translate(1251,405) rotate(-90)">reshape</text><text x="1197" y="391">softmax</text></g>
<g class="s"><text x="1101" y="371">H'W'x C</text><text x="1101" y="402">H'W'x C</text><text x="1121" y="427">H'W'x C</text><text x="1174" y="413">C x C</text><text x="1205" y="424">H'W'x C</text><text x="1264" y="423">H'x W'x C</text></g>
<text x="1167" y="455" font-size="12" class="b" text-anchor="middle">Channel-Attention</text>
<text x="1352" y="418" font-size="22" class="m">F<tspan font-size="15" dy="5">out</tspan></text>
<rect x="1015" y="536" width="168" height="27" rx="4" fill="#22f0a0" stroke="#222" stroke-width="2"/>
<text x="1099" y="556" font-size="16" class="b" text-anchor="middle">Vanilla Transformer</text>
</svg>
</body></html>
